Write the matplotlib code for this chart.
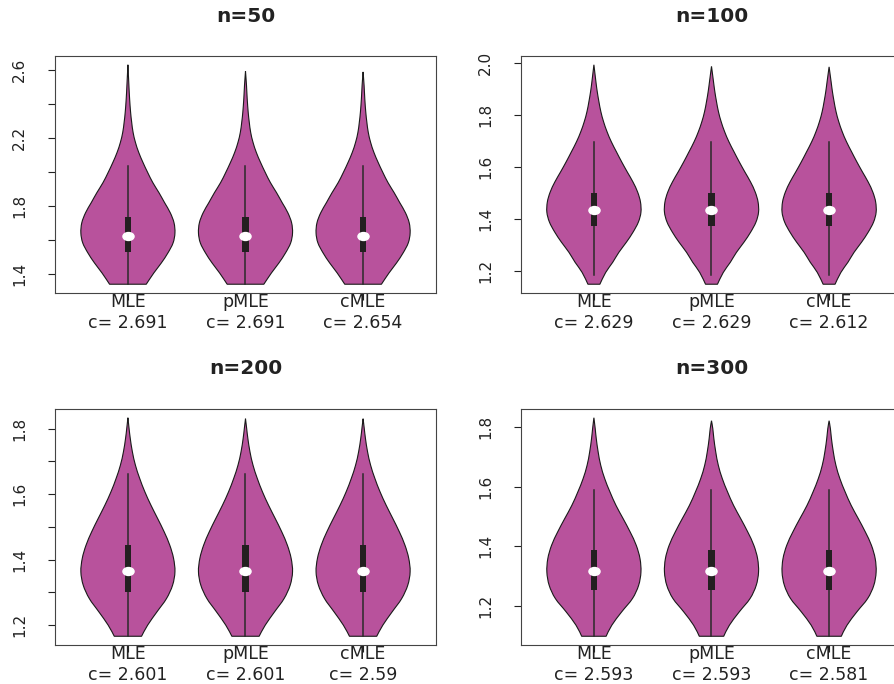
import matplotlib
matplotlib.use("Agg")
import matplotlib.pyplot as plt
import numpy as np
from matplotlib.markers import MarkerStyle
from matplotlib.patches import PathPatch, Rectangle
from matplotlib.path import Path
from matplotlib.transforms import Affine2D

# %%
methods = ["MLE", "pMLE", "cMLE"]
titles = ["n=50", "n=100", "n=200", "n=300"]
c_values = [
    [2.691, 2.691, 2.654],
    [2.629, 2.629, 2.612],
    [2.601, 2.601, 2.59],
    [2.593, 2.593, 2.581],
]

# violin outline: heights and relative half-widths (1 = widest)
profile_y = [
    [1.338, 1.404, 1.463, 1.522, 1.581, 1.640, 1.700, 1.759, 1.818, 1.877, 1.936, 1.996,
     2.055, 2.114, 2.173, 2.232, 2.292, 2.351, 2.430, 2.509],
    [1.151, 1.196, 1.235, 1.273, 1.312, 1.350, 1.389, 1.427, 1.466, 1.504, 1.543, 1.581,
     1.620, 1.658, 1.697, 1.735, 1.774, 1.812, 1.851, 1.890, 1.928],
    [1.166, 1.200, 1.241, 1.281, 1.322, 1.363, 1.404, 1.444, 1.485, 1.526, 1.566, 1.607,
     1.648, 1.688, 1.729, 1.770, 1.800],
    [1.097, 1.134, 1.179, 1.224, 1.268, 1.313, 1.358, 1.403, 1.448, 1.493, 1.537, 1.583,
     1.627, 1.672, 1.717, 1.762, 1.795],
]
profile_w = [
    [0.39, 0.55, 0.71, 0.85, 0.96, 1.00, 0.98, 0.90, 0.78, 0.66, 0.53, 0.42,
     0.32, 0.23, 0.16, 0.11, 0.08, 0.057, 0.036, 0.021],
    [0.127, 0.25, 0.40, 0.53, 0.69, 0.83, 0.945, 1.00, 0.99, 0.93, 0.83, 0.71,
     0.59, 0.48, 0.37, 0.28, 0.205, 0.148, 0.106, 0.07, 0.042],
    [0.29, 0.42, 0.62, 0.82, 0.95, 1.00, 0.97, 0.89, 0.77, 0.63, 0.49, 0.36,
     0.25, 0.16, 0.095, 0.05, 0.025],
    [0.26, 0.38, 0.59, 0.82, 0.95, 1.00, 0.98, 0.90, 0.77, 0.62, 0.47, 0.34,
     0.23, 0.145, 0.09, 0.05, 0.028],
]
tips = [
    [2.630, 2.592, 2.588],
    [1.992, 1.986, 1.984],
    [1.833, 1.830, 1.830],
    [1.832, 1.822, 1.822],
]

# box statistics (same for the three estimators in a panel)
q1 = [1.528, 1.373, 1.302, 1.254]
median = [1.623, 1.434, 1.365, 1.315]
q3 = [1.732, 1.502, 1.446, 1.388]
whisk_lo = [1.338, 1.185, 1.166, 1.097]
whisk_hi = [2.032, 1.695, 1.662, 1.590]

yticks = [
    [1.4, 1.6, 1.8, 2.0, 2.2, 2.4, 2.6],
    [1.2, 1.4, 1.6, 1.8, 2.0],
    [1.2, 1.3, 1.4, 1.5, 1.6, 1.7, 1.8],
    [1.2, 1.4, 1.6, 1.8],
]
ytick_labels = [
    ["1.4", "", "1.8", "", "2.2", "", "2.6"],
    ["1.2", "1.4", "1.6", "1.8", "2.0"],
    ["1.2", "", "1.4", "", "1.6", "", "1.8"],
    ["1.2", "1.4", "1.6", "1.8"],
]

# %%
VIOLIN_COL = "#B8529C"
BOX_COL = "#231F20"
W, H = 895, 684
# (left, top, width, height) in pixels
PANELS = [(55, 56, 381, 237), (521, 56, 381, 237), (55, 409, 381, 236), (521, 409, 381, 236)]
TITLE_OFFSET = [39, 39, 41, 41]

ellipse = MarkerStyle(Path.unit_circle().transformed(Affine2D().scale(1.4, 1.0)))


def smooth_segments(pts):
    """Catmull-Rom through pts, returned as cubic bezier vertices (no start point)."""
    pts = np.asarray(pts)
    ext = np.vstack([pts[0], pts, pts[-1]])
    verts = []
    for j in range(1, len(ext) - 2):
        p0, p1, p2, p3 = ext[j - 1], ext[j], ext[j + 1], ext[j + 2]
        verts += [p1 + (p2 - p0) / 6, p2 - (p3 - p1) / 6, p2]
    return verts


def violin_path(x, ys, half):
    left = np.column_stack([x - half, ys])
    right = np.column_stack([x + half, ys])[::-1]
    verts = [left[0]] + smooth_segments(left) + smooth_segments(right) + [left[0]]
    codes = [Path.MOVETO] + [Path.CURVE4] * (len(verts) - 2) + [Path.CLOSEPOLY]
    return Path(verts, codes)


fig = plt.figure(figsize=(W / 100, H / 100), dpi=100)

for k, (px, py, pw, ph) in enumerate(PANELS):
    ax = fig.add_axes([px / W, 1 - (py + ph) / H, pw / W, ph / H])

    for i, m in enumerate(methods):
        x = i + 1
        ys = np.array(profile_y[k] + [tips[k][i]])
        ws = np.array(profile_w[k] + [0.0]) * 0.4
        ax.add_patch(
            PathPatch(violin_path(x, ys, ws), facecolor=VIOLIN_COL, edgecolor="#1a1a1a", linewidth=0.8, zorder=2)
        )
        ax.plot([x, x], [whisk_lo[k], whisk_hi[k]], color="#2a2a2a", lw=1.1, zorder=3)
        ax.add_patch(
            Rectangle((x - 0.028, q1[k]), 0.056, q3[k] - q1[k], facecolor=BOX_COL, edgecolor="none", zorder=4)
        )
        ax.plot(x, median[k], marker=ellipse, ms=8, color="white", mec="white", zorder=5)

    lo = min(profile_y[k])
    hi = max(tips[k])
    pad = 0.04 * (hi - lo)
    ax.set_ylim(lo - pad, hi + pad)
    ax.set_xlim(0.38, 3.62)

    ax.set_xticks([1, 2, 3])
    ax.set_xticklabels([f"{m}\nc= {c}" for m, c in zip(methods, c_values[k])], linespacing=1.2)
    ax.set_yticks(yticks[k])
    ax.set_yticklabels(ytick_labels[k], rotation=90, va="center")
    ax.tick_params(axis="x", length=5, width=0.8, pad=-5, labelsize=12.5, colors="#222222")
    ax.tick_params(axis="y", length=5, width=0.8, pad=15, labelsize=11, colors="#222222")

    for s in ax.spines.values():
        s.set_color("#444444")
        s.set_linewidth(0.8)

    ax.text(
        0.5,
        1 + TITLE_OFFSET[k] / ph,
        titles[k],
        transform=ax.transAxes,
        ha="center",
        va="center",
        fontsize=14.5,
        fontweight="bold",
        color="#222222",
    )

fig.savefig("out.png", dpi=100)
